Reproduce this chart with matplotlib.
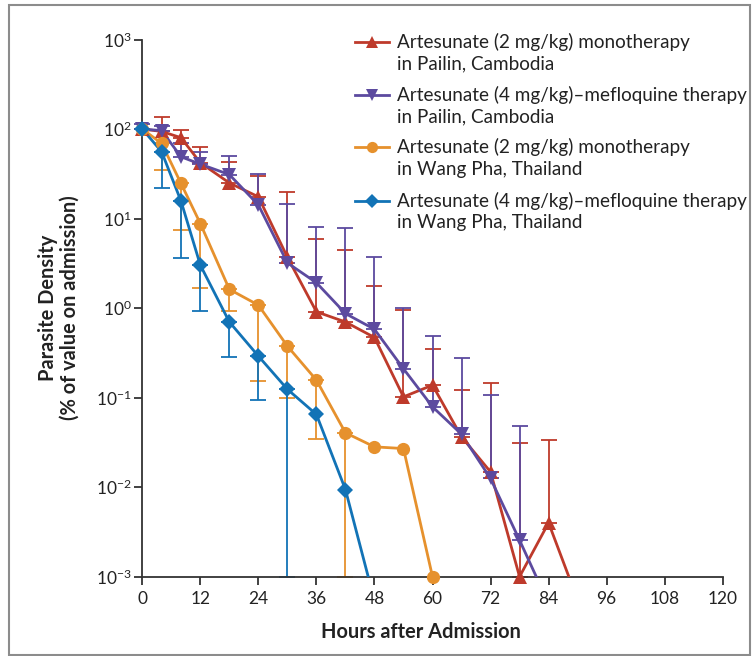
import numpy as np
import matplotlib
matplotlib.use("Agg")
import matplotlib.pyplot as plt
from matplotlib.patches import Rectangle
from matplotlib.lines import Line2D

FONT = "Lato"
plt.rcParams["font.family"] = [FONT, "DejaVu Sans"]
plt.rcParams["mathtext.fontset"] = "custom"
plt.rcParams["mathtext.rm"] = FONT
plt.rcParams["mathtext.it"] = FONT + ":italic"
plt.rcParams["mathtext.bf"] = FONT + ":bold"

# ---------------- data ----------------
hours_red = [0, 4, 8, 12, 18, 24, 30, 36, 42, 48, 54, 60, 66, 72, 78, 84, 90]
red_vals = [100, 94, 80, 42, 25, 17.5, 3.7, 0.91, 0.70, 0.47, 0.102, 0.138,
            0.0365, 0.0148, 0.001, 0.0040, 0.00055]
red_upper = [np.nan, 137, 97, 63, 43, 30, 20, 5.9, 4.5, 1.76, 0.95, 0.345,
             0.121, 0.144, 0.031, 0.034, np.nan]

hours_purple = [0, 4, 8, 12, 18, 24, 30, 36, 42, 48, 54, 60, 66, 72, 78, 84]
purple_vals = [100, 96, 49, 40.5, 31, 14.2, 3.2, 1.92, 0.87, 0.58, 0.21, 0.079,
               0.039, 0.0125, 0.00256, 0.0005]
purple_upper = [115, 107, 69, 56, 50, 31.5, 14.5, 8.1, 7.9, 3.74, 0.99, 0.487,
                0.279, 0.107, 0.048, np.nan]

hours_orange = [0, 4, 8, 12, 18, 24, 30, 36, 42, 48, 54, 60]
orange_vals = [100, 69, 24.7, 8.8, 1.62, 1.08, 0.376, 0.157, 0.0405, 0.0282,
               0.027, 0.001]
orange_lower = [np.nan, 34.8, 7.4, 1.69, 0.93, 0.154, 0.098, 0.0344, 0.001,
                np.nan, np.nan, np.nan]

hours_blue = [0, 4, 8, 12, 18, 24, 30, 36, 42, 48]
blue_vals = [100, 55.7, 15.7, 3.02, 0.70, 0.291, 0.124, 0.0649, 0.0094, 0.00054]
blue_lower = [np.nan, 22, 3.65, 0.93, 0.286, 0.094, 0.001, np.nan, np.nan, np.nan]

labels = [
    ("Artesunate (2 mg/kg) monotherapy", "in Pailin, Cambodia"),
    ("Artesunate (4 mg/kg)\u2013mefloquine therapy", "in Pailin, Cambodia"),
    ("Artesunate (2 mg/kg) monotherapy", "in Wang Pha, Thailand"),
    ("Artesunate (4 mg/kg)\u2013mefloquine therapy", "in Wang Pha, Thailand"),
]
x_ticks = [0, 12, 24, 36, 48, 60, 72, 84, 96, 108, 120]
y_exponents = [-3, -2, -1, 0, 1, 2, 3]

colors = ["#BE3A2B", "#5C4A9F", "#E6912D", "#1273B6"]
markers = ["^", "v", "o", "D"]
msizes = [10, 10, 9.5, 8.5]

# ---------------- figure ----------------
W, H = 754, 656
fig = plt.figure(figsize=(W / 100, H / 100), dpi=100)
ax_l, ax_r, ax_t, ax_b = 142.3, 722.7, 39.5, 576.7
ax = fig.add_axes([ax_l / W, 1 - ax_b / H, (ax_r - ax_l) / W, (ax_b - ax_t) / H])

ax.set_yscale("log")
ax.set_xlim(0, 120)
ax.set_ylim(1e-3, 1e3)

series = [
    (hours_red, red_vals, red_upper, "up"),
    (hours_purple, purple_vals, purple_upper, "up"),
    (hours_orange, orange_vals, orange_lower, "down"),
    (hours_blue, blue_vals, blue_lower, "down"),
]

for i, (hh, vv, bb, kind) in enumerate(series):
    hh = np.asarray(hh, float)
    vv = np.asarray(vv, float)
    bb = np.asarray(bb, float)
    m = ~np.isnan(bb)
    if kind == "up":
        yerr = [np.zeros(m.sum()), bb[m] - vv[m]]
    else:
        yerr = [vv[m] - bb[m], np.zeros(m.sum())]
    eb = ax.errorbar(hh[m], vv[m], yerr=yerr, fmt="none", ecolor=colors[i],
                     elinewidth=1.3, capsize=5.5, capthick=1.3, zorder=2 + i * 0.1)
    for art in list(eb.lines[1]) + list(eb.lines[2]):
        art.set_clip_on(False)

for i, (hh, vv, bb, kind) in enumerate(series):
    hh = np.asarray(hh, float)
    vv = np.asarray(vv, float)
    ax.plot(hh, vv, color=colors[i], lw=2.0, zorder=3 + i * 0.1,
            solid_joinstyle="round")
    vis = vv >= 1e-3
    ax.plot(hh[vis], vv[vis], linestyle="none", marker=markers[i],
            ms=msizes[i], color=colors[i], markeredgewidth=0,
            zorder=4 + i * 0.1, clip_on=False)

# axes styling
for s in ["top", "right"]:
    ax.spines[s].set_visible(False)
for s in ["left", "bottom"]:
    ax.spines[s].set_color("#333333")
    ax.spines[s].set_linewidth(1.3)

ax.set_xticks(x_ticks)
ax.set_xticklabels([str(t) for t in x_ticks])
ax.set_yticks([10.0 ** e for e in y_exponents])
ax.set_yticklabels([r"$\mathregular{10^{%d}}$" % e for e in y_exponents])
ax.minorticks_off()
ax.tick_params(axis="both", direction="out", length=6, width=1.3,
               color="#333333", labelcolor="#222222", labelsize=12.5)
ax.tick_params(axis="x", pad=4)
ax.tick_params(axis="y", pad=1.5)

ax.set_xlabel("Hours after Admission", fontsize=14.4, fontweight="bold",
              color="#222222")
ax.xaxis.set_label_coords((421 - ax_l) / (ax_r - ax_l), (ax_b - 622) / (ax_b - ax_t))
ax.set_ylabel("Parasite Density\n(% of value on admission)", fontsize=14.4,
              fontweight="bold", color="#222222", linespacing=1.15)
ax.yaxis.set_label_coords((80 - ax_l) / (ax_r - ax_l), 0.5)

# manual legend
base_y = [47.7, 100.7, 153.3, 206.7]
for i in range(4):
    yb = base_y[i]
    ym = yb - 6
    fig.add_artist(Line2D([355 / W, 389 / W], [1 - ym / H, 1 - ym / H],
                          color=colors[i], lw=2.0, transform=fig.transFigure))
    fig.add_artist(Line2D([372 / W], [1 - ym / H], marker=markers[i],
                          ms=msizes[i] * 0.85, color=colors[i], markeredgewidth=0,
                          linestyle="none", transform=fig.transFigure))
    fig.text(397 / W, 1 - yb / H, labels[i][0], fontsize=13.6, color="#222222",
             va="baseline", ha="left")
    fig.text(397 / W, 1 - (yb + 21.6) / H, labels[i][1], fontsize=13.6,
             color="#222222", va="baseline", ha="left")

# figure frame
fig.add_artist(Rectangle((9 / W, 1 - 655 / H), (750 - 9) / W, (655 - 5) / H,
                         transform=fig.transFigure, fill=False,
                         edgecolor="#8c8c8c", lw=1.5))

fig.savefig("out.png", dpi=100)
